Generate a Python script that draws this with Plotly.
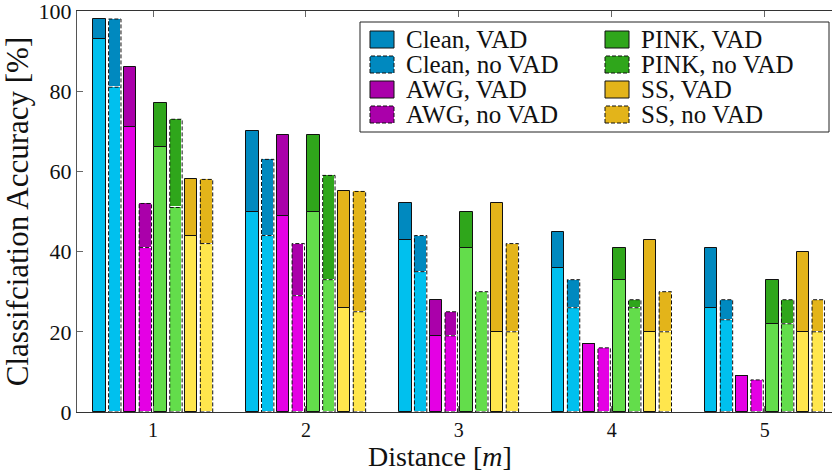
import plotly.graph_objects as go

# ---------------- data ----------------
distances = [1, 2, 3, 4, 5]
series_names = ["Clean, VAD", "Clean, no VAD", "AWG, VAD", "AWG, no VAD",
                "PINK, VAD", "PINK, no VAD", "SS, VAD", "SS, no VAD"]

clean_vad_top = [98, 70, 52, 45, 41]
clean_vad_low = [93, 50, 43, 36, 26]
clean_novad_top = [98, 63, 44, 33, 28]
clean_novad_low = [81, 44, 35, 26, 23]
awg_vad_top = [86, 69, 28, 17, 9]
awg_vad_low = [71, 49, 19, 17, 9]
awg_novad_top = [52, 42, 25, 16, 8]
awg_novad_low = [41, 29, 19, 16, 8]
pink_vad_top = [77, 69, 50, 41, 33]
pink_vad_low = [66, 50, 41, 33, 22]
pink_novad_top = [73, 59, 30, 28, 28]
pink_novad_low = [51, 33, 30, 26, 22]
ss_vad_top = [58, 55, 52, 43, 40]
ss_vad_low = [44, 26, 20, 20, 20]
ss_novad_top = [58, 55, 42, 30, 28]
ss_novad_low = [42, 25, 20, 20, 20]

y_ticks = [0, 20, 40, 60, 80, 100]

# ---------------- styles ----------------
light = {"Clean": "#00C0EE", "AWG": "#E400E4", "PINK": "#63DD4B", "SS": "#FFE64D"}
dark = {"Clean": "#0089BF", "AWG": "#AA00AA", "PINK": "#2FA61B", "SS": "#E3B41A"}

series = [
    ("Clean", False, clean_vad_top, clean_vad_low),
    ("Clean", True, clean_novad_top, clean_novad_low),
    ("AWG", False, awg_vad_top, awg_vad_low),
    ("AWG", True, awg_novad_top, awg_novad_low),
    ("PINK", False, pink_vad_top, pink_vad_low),
    ("PINK", True, pink_novad_top, pink_novad_low),
    ("SS", False, ss_vad_top, ss_vad_low),
    ("SS", True, ss_novad_top, ss_novad_low),
]

SERIF = "Liberation Serif, Times New Roman, serif"
BAR_W = 0.081
PITCH = 0.1
DASH = "4px,2px"

fig = go.Figure()
shapes = []

for i, (noise, dashed, tops, lows) in enumerate(series):
    off = (i - 3.5) * PITCH
    xs = [d + off for d in distances]
    edge = "white" if dashed else "#111"
    fig.add_trace(go.Bar(
        x=xs, y=lows, base=[0] * len(lows), width=BAR_W,
        marker=dict(color=light[noise], line=dict(color=edge, width=1)),
        showlegend=False, hoverinfo="skip"))
    ups = [t - l for t, l in zip(tops, lows)]
    fig.add_trace(go.Bar(
        x=xs, y=ups, base=lows, width=BAR_W,
        marker=dict(color=dark[noise], line=dict(color=edge, width=1)),
        showlegend=False, hoverinfo="skip"))
    if dashed:
        for x, t, l in zip(xs, tops, lows):
            shapes.append(dict(type="rect", xref="x", yref="y",
                               x0=x - BAR_W / 2, x1=x + BAR_W / 2, y0=0, y1=t,
                               line=dict(color="#111", width=1, dash=DASH),
                               fillcolor="rgba(0,0,0,0)", layer="above"))
            if t > l:
                shapes.append(dict(type="line", xref="x", yref="y",
                                   x0=x - BAR_W / 2, x1=x + BAR_W / 2, y0=l, y1=l,
                                   line=dict(color="#111", width=1, dash=DASH),
                                   layer="above"))

# ---------------- custom legend ----------------
L, R, T, B = 77, 832, 11, 412
def px(x):
    return (x - L) / (R - L)
def py(y):
    return (B - y) / (B - T)

annotations = []
shapes.append(dict(type="rect", xref="paper", yref="paper",
                   x0=px(360), x1=px(829), y0=py(132), y1=py(22),
                   line=dict(color="#222", width=1), fillcolor="white", layer="above"))
for i, (noise, dashed, tops, lows) in enumerate(series):
    col = 0 if i < 4 else 1
    row = i % 4
    sx0 = 370 if col == 0 else 605
    ty = 39.5 + row * 25
    shapes.append(dict(type="rect", xref="paper", yref="paper",
                       x0=px(sx0), x1=px(sx0 + 24), y0=py(ty + 8.5), y1=py(ty - 8.5),
                       fillcolor=dark[noise],
                       line=dict(color="#111", width=1, dash=DASH if dashed else "solid"),
                       layer="above"))
    annotations.append(dict(xref="paper", yref="paper", x=px(sx0 + 35), y=py(ty),
                            text=series_names[i], showarrow=False,
                            xanchor="left", yanchor="middle", borderpad=0,
                            font=dict(family=SERIF, size=25, color="#111")))

# x-axis title placed as in the reference (slightly left of the axis centre)
annotations.append(dict(xref="paper", yref="paper", x=px(440), y=py(456),
                        text="Distance [<i>m</i>]", showarrow=False,
                        xanchor="center", yanchor="middle", borderpad=0,
                        font=dict(family=SERIF, size=28, color="#111")))

fig.update_layout(
    width=832, height=472,
    margin=dict(l=L, r=0, t=T, b=472 - B),
    barmode="overlay",
    bargap=0,
    plot_bgcolor="white", paper_bgcolor="white",
    shapes=shapes, annotations=annotations,
    font=dict(family=SERIF, color="#111"),
    showlegend=False,
)
fig.update_xaxes(
    range=[0.503, 5.44], tickvals=distances, ticktext=[str(d) for d in distances],
    ticks="inside", ticklen=6, tickcolor="#666", showline=True, linecolor="#333",
    linewidth=1, mirror="ticks", showgrid=False, zeroline=False,
    tickfont=dict(family=SERIF, size=20), ticklabeloverflow="allow",
)
fig.update_yaxes(
    range=[0, 100], tickvals=y_ticks, ticks="inside", ticklen=6, tickcolor="#666",
    showline=True, linecolor="#555", linewidth=1, mirror=True, showgrid=False,
    zeroline=False, tickfont=dict(family=SERIF, size=22), ticklabeloverflow="allow",
    title=dict(text="Classifciation Accuracy [%]", font=dict(family=SERIF, size=31), standoff=0),
)

fig.write_html("out.html")
